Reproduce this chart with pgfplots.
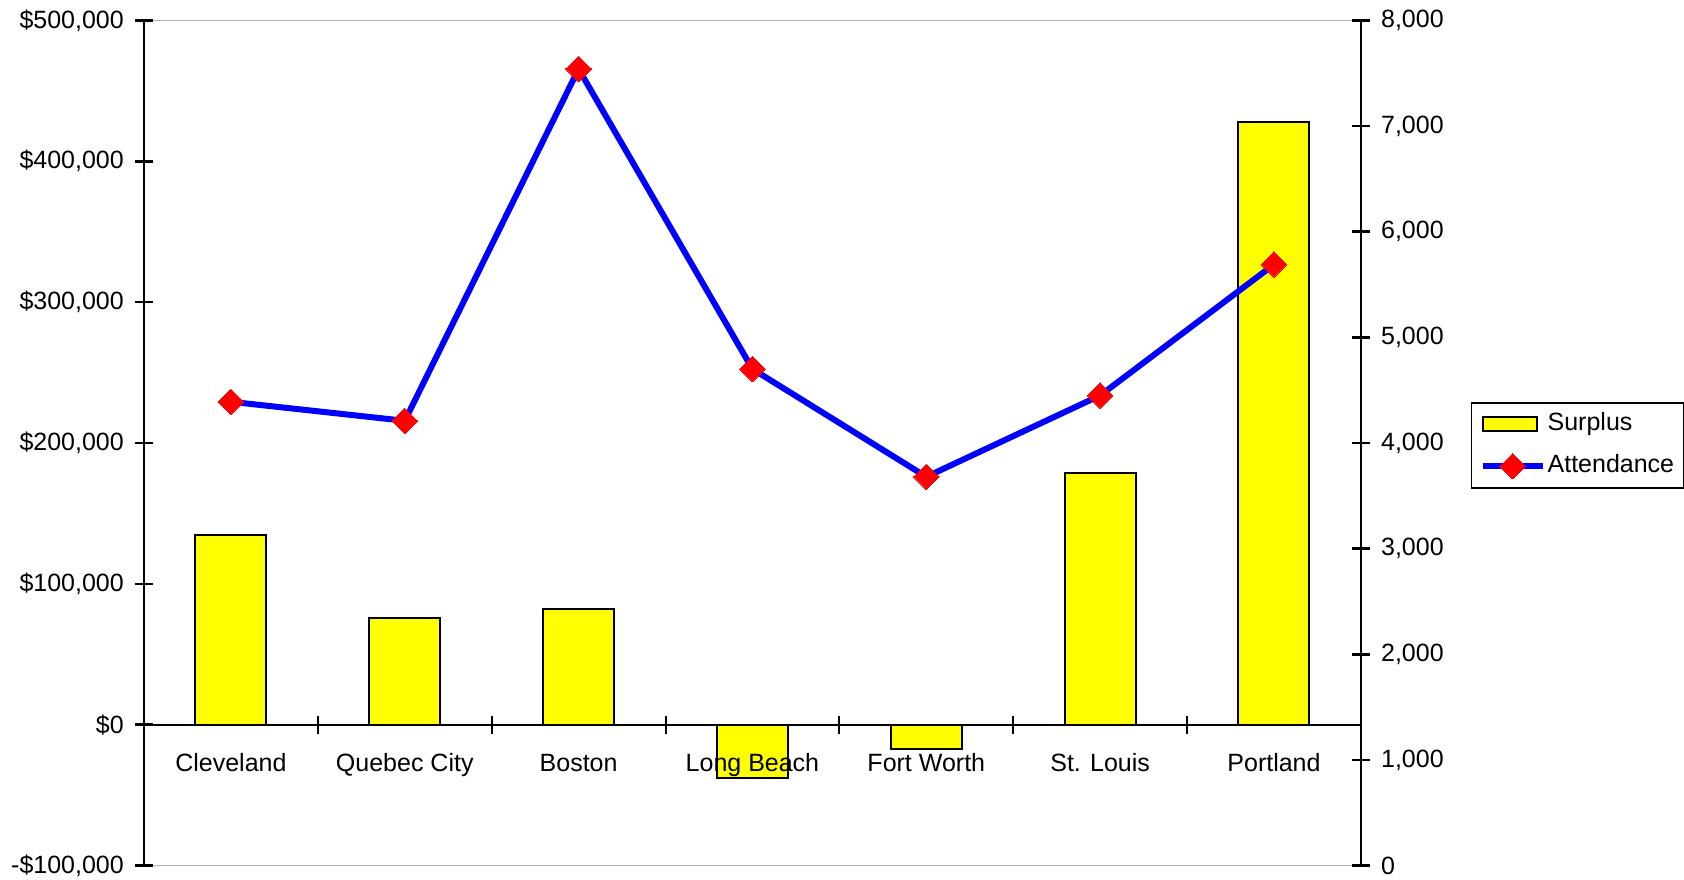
\documentclass[border=0pt]{standalone}
\usepackage{pgfplots}
\pgfplotsset{compat=1.18}
\usepackage{fontspec}
\setmainfont{Liberation Sans}
\definecolor{xlyellow}{RGB}{255,255,0}
\definecolor{xlblue}{RGB}{0,0,255}
\definecolor{xlred}{RGB}{255,0,0}
\pgfplotsset{
  rectlegend/.style={legend image code/.code={\draw[##1] (0pt,-7pt) rectangle (54pt,7pt);}},
  linelegend/.style={legend image code/.code={\draw[##1, mark repeat=2, mark phase=2] plot coordinates {(0pt,0pt) (30pt,0pt) (60pt,0pt)};}},
}
\begin{document}
\begin{tikzpicture}
\useasboundingbox (0,0) rectangle (1684pt,880pt);
\pgfplotsset{
  every axis/.append style={
    at={(144pt,14.4pt)}, anchor=south west,
    width=1217pt, height=845.2pt, scale only axis,
    xmin=-0.5, xmax=6.5,
    tick label style={font=\fontsize{25}{30}\selectfont},
    tick align=center, major tick length=18pt, minor tick length=18pt,
    scaled y ticks=false,
  }
}
\begin{axis}[
  axis on top,
  ymin=-100000, ymax=500000,
  axis y line*=left,
  axis x line*=middle,
  x axis line style={-, line width=2pt, black},
  y axis line style={-, line width=2.5pt, black},
  ytick={-100000,0,100000,200000,300000,400000,500000},
  yticklabels={{-\$100,000},{\$0},{\$100,000},{\$200,000},{\$300,000},{\$400,000},{\$500,000}},
  yticklabel style={anchor=east, inner sep=0pt, xshift=-11pt},
  ytick style={line width=2.5pt, black},
  xtick={0,1,2,3,4,5,6},
  xticklabels={Cleveland,Quebec City,Boston,Long Beach,Fort Worth,St. Louis,Portland},
  xticklabel style={anchor=base, inner sep=0pt, yshift=-37.5pt},
  minor xtick={0.5,1.5,2.5,3.5,4.5,5.5},
  major x tick style={draw=none},
  minor x tick style={line width=2pt, black},
]
\draw[gray!60, line width=1.5pt] (rel axis cs:0,1) -- (rel axis cs:1,1);
\draw[gray!60, line width=1.5pt] (rel axis cs:0,0) -- (rel axis cs:1,0);
\addplot[ybar, bar width=71pt, fill=xlyellow, draw=black, line width=2pt]
  coordinates {(0,135000) (1,76000) (2,82000) (3,-38000) (4,-17000) (5,179000) (6,428000)};
\end{axis}
\begin{axis}[
  ymin=0, ymax=8000,
  axis y line*=right,
  axis x line=none,
  y axis line style={-, line width=2.5pt, black},
  ytick={0,1000,2000,3000,4000,5000,6000,7000,8000},
  ytick style={line width=2.5pt, black},
  /pgf/number format/assume math mode=true,
  yticklabel style={/pgf/number format/1000 sep={,}, anchor=west, inner sep=0pt, xshift=11pt},
  legend style={at={(1.0904,0.5485)}, anchor=north west, draw=black, line width=1.5pt,
    font=\fontsize{25}{30}\selectfont, inner xsep=8pt, inner ysep=6pt, row sep=11pt,
    nodes={inner xsep=2pt, inner ysep=4pt, text height=18pt, text depth=5pt}},
  legend cell align=left,
]
\addlegendimage{rectlegend, fill=xlyellow, draw=black, line width=2pt}
\addlegendentry{Surplus}
\addplot[linelegend, xlblue, line width=6pt, mark=square*, mark size=9pt,
  mark options={rotate=45, fill=xlred, draw=xlred, line width=0pt}]
  coordinates {(0,4390) (1,4210) (2,7540) (3,4700) (4,3680) (5,4450) (6,5690)};
\addlegendentry{Attendance}
\end{axis}
\end{tikzpicture}
\end{document}
